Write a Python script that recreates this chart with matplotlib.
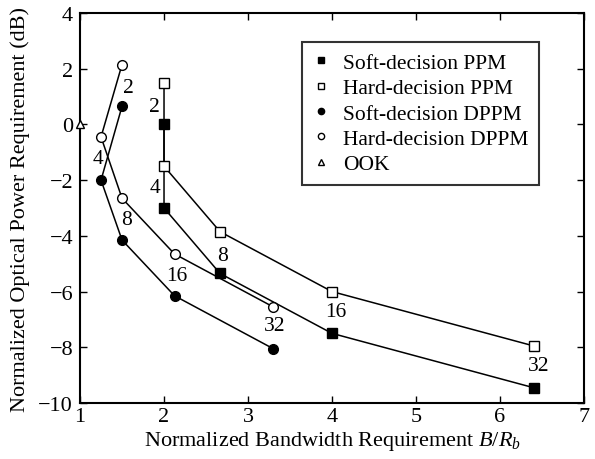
import matplotlib.pyplot as plt
from matplotlib.lines import Line2D

plt.rcParams["font.family"] = "Liberation Serif"
plt.rcParams["mathtext.fontset"] = "custom"
plt.rcParams["mathtext.it"] = "Liberation Serif:italic"
plt.rcParams["mathtext.rm"] = "Liberation Serif"

# bandwidth B/Rb and power (dB) for L = 2, 4, 8, 16, 32
L = [2, 4, 8, 16, 32]
ppm_bw = [2.0, 2.0, 2.667, 4.0, 6.4]
soft_ppm = [0.0, -3.0, -5.35, -7.5, -9.45]
hard_ppm = [1.5, -1.5, -3.85, -6.0, -7.95]
dppm_bw = [1.5, 1.25, 1.5, 2.125, 3.3]
soft_dppm = [0.65, -2.0, -4.15, -6.15, -8.05]
hard_dppm = [2.15, -0.45, -2.65, -4.65, -6.55]
ook_bw = [1.0]
ook = [0.0]

# where the L labels sit
dppm_lab_x = [1.57, 1.21, 1.55, 2.15, 3.32]
dppm_lab_y = [1.34, -1.24, -3.43, -5.44, -7.23]
ppm_lab_x = [1.89, 1.89, 2.70, 4.04, 6.46]
ppm_lab_y = [0.66, -2.25, -4.72, -6.73, -8.67]

fig, ax = plt.subplots(figsize=(5.95, 4.6), dpi=100)
fig.subplots_adjust(left=0.1345, right=0.9815, bottom=0.1217, top=0.9696)

lw = 1.1
ax.plot(ppm_bw, soft_ppm, '-s', color='black', mfc='black', ms=7, lw=lw, zorder=3)
ax.plot(ppm_bw, hard_ppm, '-s', color='black', mfc='white', ms=7, lw=lw, zorder=3)
ax.plot(dppm_bw, soft_dppm, '-o', color='black', mfc='black', ms=7, lw=lw, zorder=3)
ax.plot(dppm_bw, hard_dppm, '-o', color='black', mfc='white', ms=7, lw=lw, zorder=3)
ax.plot(ook_bw, ook, '^', color='black', mfc='white', ms=6, clip_on=False, zorder=4)

for i in range(len(L)):
    ax.text(dppm_lab_x[i], dppm_lab_y[i], str(L[i]), fontsize=15.5,
            ha='center', va='center')
    ax.text(ppm_lab_x[i], ppm_lab_y[i], str(L[i]), fontsize=15.5,
            ha='center', va='center')

ax.set_xlim(1, 7)
ax.set_ylim(-10, 4)
ax.set_xticks(range(1, 8))
ax.set_yticks(range(-10, 5, 2))
ax.tick_params(direction='in', top=True, right=True, labelsize=16,
               length=5, width=1)
ax.tick_params(axis='x', pad=3)
ax.tick_params(axis='y', pad=5)
for s in ax.spines.values():
    s.set_linewidth(1.5)

ax.set_xlabel('Normalized Bandwidth Requirement $B/R_b$', fontsize=16, labelpad=2)
ax.set_ylabel('Normalized Optical Power Requirement (dB)', fontsize=16, labelpad=6)

handles = [
    Line2D([], [], ls='none', marker='s', color='black', mfc='black', ms=4.5),
    Line2D([], [], ls='none', marker='s', color='black', mfc='white', ms=4.5),
    Line2D([], [], ls='none', marker='o', color='black', mfc='black', ms=4.5),
    Line2D([], [], ls='none', marker='o', color='black', mfc='white', ms=4.5),
    Line2D([], [], ls='none', marker='^', color='black', mfc='white', ms=4.5),
]
names = ['Soft-decision PPM', 'Hard-decision PPM', 'Soft-decision DPPM',
         'Hard-decision DPPM', 'OOK']
leg = ax.legend(handles, names, loc='upper left', bbox_to_anchor=(0.44, 0.926),
                fontsize=15.5, frameon=True, fancybox=False, edgecolor='black',
                handlelength=0.8, handletextpad=0.6, labelspacing=0.25,
                borderpad=0.5, borderaxespad=0)
leg.get_frame().set_linewidth(1.5)

fig.savefig('out.png', dpi=100)
